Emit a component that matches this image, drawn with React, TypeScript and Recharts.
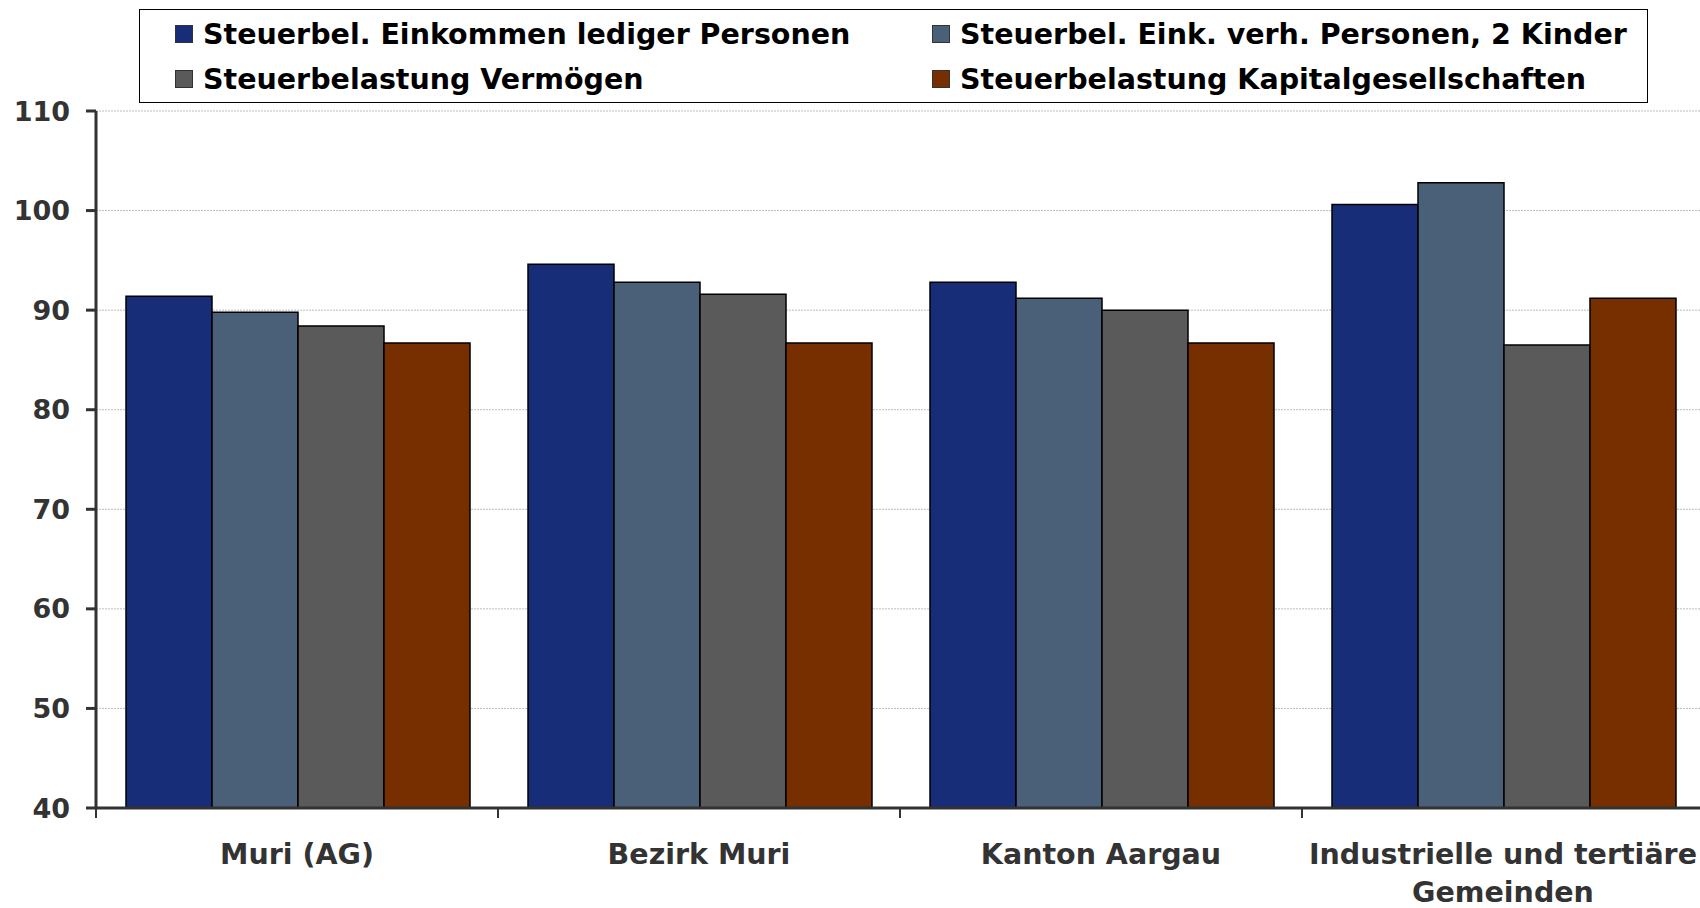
import React from 'react';
import { BarChart, Bar, XAxis, YAxis, CartesianGrid, Legend } from 'recharts';

const categories = ['Muri (AG)', 'Bezirk Muri', 'Kanton Aargau', 'Industrielle und tertiäre\nGemeinden'];
const ledig = [91.4, 94.6, 92.8, 100.6];
const verheiratet = [89.8, 92.8, 91.2, 102.8];
const vermoegen = [88.4, 91.6, 90.0, 86.5];
const kapital = [86.7, 86.7, 86.7, 91.2];
const yTicks = [40, 50, 60, 70, 80, 90, 100, 110];

const series = [
  { key: 'ledig', name: 'Steuerbel. Einkommen lediger Personen', color: '#182d77' },
  { key: 'verheiratet', name: 'Steuerbel. Eink. verh. Personen, 2 Kinder', color: '#4a5f78' },
  { key: 'vermoegen', name: 'Steuerbelastung Vermögen', color: '#5a5a5a' },
  { key: 'kapital', name: 'Steuerbelastung Kapitalgesellschaften', color: '#772f00' },
];

const data = categories.map((name, i) => ({
  name,
  ledig: ledig[i],
  verheiratet: verheiratet[i],
  vermoegen: vermoegen[i],
  kapital: kapital[i],
}));

const FONT = "'DejaVu Sans', Verdana, sans-serif";

// label centred under the group, small tick at the group's left boundary
const CategoryTick = (props: any) => {
  const { x, y, payload, index, visibleTicksCount } = props;
  const half = payload && payload.offset ? payload.offset : 201;
  const lines = String(payload.value).split('\n');
  return (
    <g>
      <line x1={x - half} y1={y} x2={x - half} y2={y + 10} stroke="#333" strokeWidth={2} />
      {index === visibleTicksCount - 1 && (
        <line x1={x + half} y1={y} x2={x + half} y2={y + 10} stroke="#333" strokeWidth={2} />
      )}
      <text x={x} y={y + 56} textAnchor="middle" fill="#333" fontSize={28.5} fontWeight="bold" fontFamily={FONT}>
        {lines.map((l, i) => (
          <tspan key={i} x={x} dy={i === 0 ? 0 : 38}>
            {l}
          </tspan>
        ))}
      </text>
    </g>
  );
};

const renderLegend = () => (
  <div
    style={{
      boxSizing: 'border-box',
      width: 1509,
      height: 94,
      border: '1.5px solid #000',
      background: '#fff',
      position: 'relative',
      fontFamily: FONT,
      fontWeight: 'bold',
      fontSize: 28.5,
      color: '#000',
    }}
  >
    {series.map((s, i) => (
      <div
        key={s.key}
        style={{
          position: 'absolute',
          left: i % 2 === 0 ? 35 : 792,
          top: i < 2 ? 6 : 51,
          height: 36,
          display: 'flex',
          alignItems: 'center',
          whiteSpace: 'nowrap',
        }}
      >
        <span
          style={{
            display: 'inline-block',
            width: 16,
            height: 16,
            background: s.color,
            border: '1px solid #333',
            marginRight: 10,
          }}
        />
        <span>{s.name}</span>
      </div>
    ))}
  </div>
);

export default function App() {
  return (
    <div
      style={{
        position: 'absolute',
        left: 0,
        top: 0,
        width: 1700,
        height: 908,
        overflow: 'hidden',
        background: '#fff',
      }}
    >
      <BarChart
        width={1720}
        height={908}
        data={data}
        margin={{ top: 111, right: 16, bottom: 0, left: 0 }}
        barCategoryGap={30}
        barGap={0}
      >
        <CartesianGrid vertical={false} stroke="#bdbdbd" strokeDasharray="2 1" />
        <XAxis
          dataKey="name"
          height={100}
          interval={0}
          axisLine={{ stroke: '#333', strokeWidth: 3 }}
          tickLine={false}
          tickSize={0}
          tickMargin={0}
          tick={<CategoryTick />}
        />
        <YAxis
          type="number"
          width={96}
          domain={[40, 110]}
          ticks={yTicks}
          interval={0}
          allowDataOverflow
          axisLine={{ stroke: '#333', strokeWidth: 3 }}
          tickLine={{ stroke: '#333', strokeWidth: 3 }}
          tickSize={10}
          tickMargin={16}
          tick={{ fill: '#333', fontSize: 27, fontWeight: 'bold', fontFamily: FONT }}
        />
        <Legend
          layout="vertical"
          align="center"
          verticalAlign="middle"
          content={renderLegend}
          wrapperStyle={{ top: 9, left: 139, width: 1509, height: 94 }}
        />
        {series.map((s) => (
          <Bar
            key={s.key}
            dataKey={s.key}
            name={s.name}
            fill={s.color}
            stroke="#000"
            strokeWidth={1.5}
            isAnimationActive={false}
          />
        ))}
      </BarChart>
    </div>
  );
}
